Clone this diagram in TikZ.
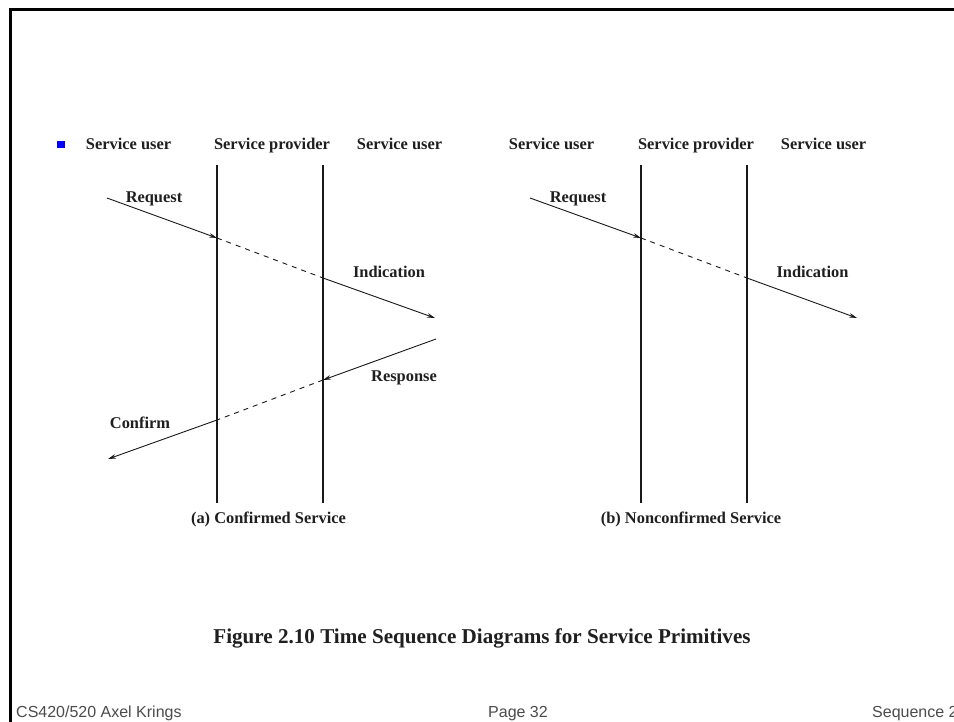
\documentclass[tikz,border=0pt]{standalone}
\usepackage{fontspec}
\setmainfont{Liberation Serif}
\newfontfamily\footfont{Liberation Sans}
\usetikzlibrary{arrows.meta}

\begin{document}
\begin{tikzpicture}[x=1pt,y=-1pt,
  lifeline/.style={line width=2pt, draw=black!90},
  msg/.style={line width=0.9pt, draw=black!90, -{Stealth[length=8pt,width=4.5pt]}},
  relay/.style={line width=0.9pt, draw=black!90, dash pattern=on 5pt off 5pt},
  hdr/.style={font=\fontsize{16.4}{18}\selectfont\bfseries, text=black!88, inner sep=0pt, anchor=base},
  figcaption/.style={font=\fontsize{21.1}{24}\selectfont\bfseries, text=black!88, inner sep=0pt, anchor=base},
  foot/.style={font=\footfont\fontsize{16}{18}\selectfont, text=black!70, inner sep=0pt, anchor=base west},
]
\useasboundingbox (0,0) rectangle (954,721);
\fill[white] (0,0) rectangle (954,721);

% slide frame (top and left edges)
\coordinate (frameBL) at (10,722);
\coordinate (frameTL) at (10,9.5);
\coordinate (frameTR) at (955,9.5);
\draw[line width=3pt] (frameBL) -- (frameTL) -- (frameTR);

% bullet
\node[fill=blue, minimum size=7.5pt, inner sep=0pt] (bullet) at (61,144.5) {};

% column headings
\node[hdr] (a-user1) at (128.5,149.5) {Service user};
\node[hdr] (a-prov)  at (272,149.5)   {Service provider};
\node[hdr] (a-user2) at (399.5,149.5) {Service user};
\node[hdr] (b-user1) at (551.5,149.5) {Service user};
\node[hdr] (b-prov)  at (696,149.5)   {Service provider};
\node[hdr] (b-user2) at (823.5,149.5) {Service user};

% ---------- (a) confirmed service ----------
\coordinate (a-L-top) at (217,165);
\coordinate (a-L-bot) at (217,503);
\coordinate (a-R-top) at (323,165);
\coordinate (a-R-bot) at (323,503);
\draw[lifeline] (a-L-top) -- (a-L-bot);
\draw[lifeline] (a-R-top) -- (a-R-bot);

\coordinate (a-req)  at (107,198);
\coordinate (a-reqL) at (217,238);
\coordinate (a-indR) at (323,278);
\coordinate (a-ind)  at (435,318);
\coordinate (a-rsp)  at (436,339);
\coordinate (a-rspR) at (323,380);
\coordinate (a-cnfL) at (217,420);
\coordinate (a-cnf)  at (108,459);

\draw[msg]   (a-req) -- (a-reqL);
\draw[relay] (a-reqL) -- (a-indR);
\draw[msg]   (a-indR) -- (a-ind);
\draw[msg]   (a-rsp) -- (a-rspR);
\draw[relay] (a-rspR) -- (a-cnfL);
\draw[msg]   (a-cnfL) -- (a-cnf);

\node[hdr] (a-req-lbl) at (154,202.5) {Request};
\node[hdr] (a-ind-lbl) at (389,277.5) {Indication};
\node[hdr] (a-rsp-lbl) at (404,381.5) {Response};
\node[hdr] (a-cnf-lbl) at (140,428)   {Confirm};
\node[hdr] (a-title)   at (268.5,523.5) {(a) Confirmed Service};

% ---------- (b) nonconfirmed service ----------
\coordinate (b-L-top) at (641,165);
\coordinate (b-L-bot) at (641,503);
\coordinate (b-R-top) at (747,165);
\coordinate (b-R-bot) at (747,503);
\draw[lifeline] (b-L-top) -- (b-L-bot);
\draw[lifeline] (b-R-top) -- (b-R-bot);

\coordinate (b-req)  at (530,198);
\coordinate (b-reqL) at (641,238);
\coordinate (b-indR) at (747,278);
\coordinate (b-ind)  at (857,318);

\draw[msg]   (b-req) -- (b-reqL);
\draw[relay] (b-reqL) -- (b-indR);
\draw[msg]   (b-indR) -- (b-ind);

\node[hdr] (b-req-lbl) at (578,202.5) {Request};
\node[hdr] (b-ind-lbl) at (812.5,277.5) {Indication};
\node[hdr] (b-title)   at (691,523.5) {(b) Nonconfirmed Service};

% caption
\node[figcaption] (caption) at (482,643) {Figure 2.10 Time Sequence Diagrams for Service Primitives};

% footer
\node[foot] (foot-left)  at (16,717)  {CS420/520 Axel Krings};
\node[foot] (foot-mid)   at (488,717) {Page 32};
\node[foot] (foot-right) at (872,717) {Sequence 2};
\end{tikzpicture}
\end{document}
